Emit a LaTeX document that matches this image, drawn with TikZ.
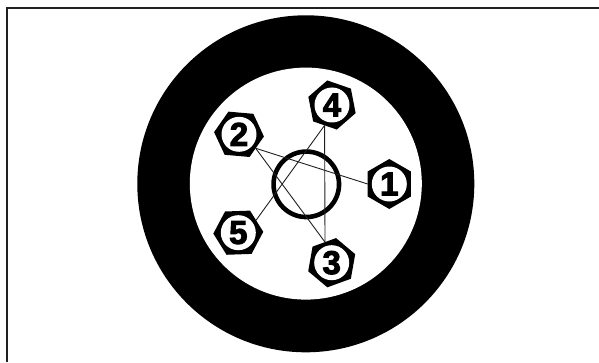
\documentclass[tikz,border=0pt]{standalone}
\usepackage{fontspec}
\usepackage{xcolor}
\usepackage{tikz}
\usetikzlibrary{shapes.geometric}
\newfontfamily\digitfont{Liberation Sans}[BoldFeatures={FakeBold=3}]
\definecolor{framegray}{RGB}{35,31,32}

\begin{document}
\begin{tikzpicture}[
    x=1pt, y=1pt,
    disc/.style={circle, inner sep=0pt, outer sep=0pt},
    nut/.style={regular polygon, regular polygon sides=6, fill=black,
                minimum size=50pt, inner sep=0pt, outer sep=0pt},
    face/.style={disc, fill=white, minimum size=35pt,
                 font=\digitfont\bfseries\fontsize{33}{33}\selectfont},
    spoke/.style={line width=0.9pt, color=framegray}
  ]
    \useasboundingbox (0,0) rectangle (599,362);
    \coordinate (fb) at (7,0);
    \coordinate (fc) at (7,353.8);
    \coordinate (fr) at (599,353.8);
    \draw[line width=2pt, color=framegray] (fb) -- (fc) -- (fr);

    \node[disc, fill=black, minimum size=337pt] (tyre) at (305.8,178.2) {};
    \node[disc, fill=white, minimum size=232pt] (rim) at (305.8,178.4) {};
    \node[disc, draw=black, line width=4.6pt, minimum size=65.5pt] (hub) at (306.3,177.7) {};

    \node[nut, shape border rotate=90] (n1) at (389.3,178) {};
    \node[nut, shape border rotate=55] (n2) at (239,227.7) {};
    \node[nut, shape border rotate=80] (n3) at (331.7,99.3) {};
    \node[nut, shape border rotate=101] (n4) at (332,257) {};
    \node[nut, shape border rotate=62] (n5) at (238.3,129.3) {};

    \node[face] (f1) at (n1) {1};
    \node[face] (f2) at (n2) {2};
    \node[face] (f3) at (n3) {3};
    \node[face] (f4) at (n4) {4};
    \node[face] (f5) at (n5) {5};

    \draw[spoke] (n2.-40) -- (n1.180);
    \draw[spoke] (n2.-40) -- (n3.108);
    \draw[spoke] (n4.250) -- (n5.35);
    \draw[spoke] (n4.250) -- (n3.108);
  \end{tikzpicture}
\end{document}
